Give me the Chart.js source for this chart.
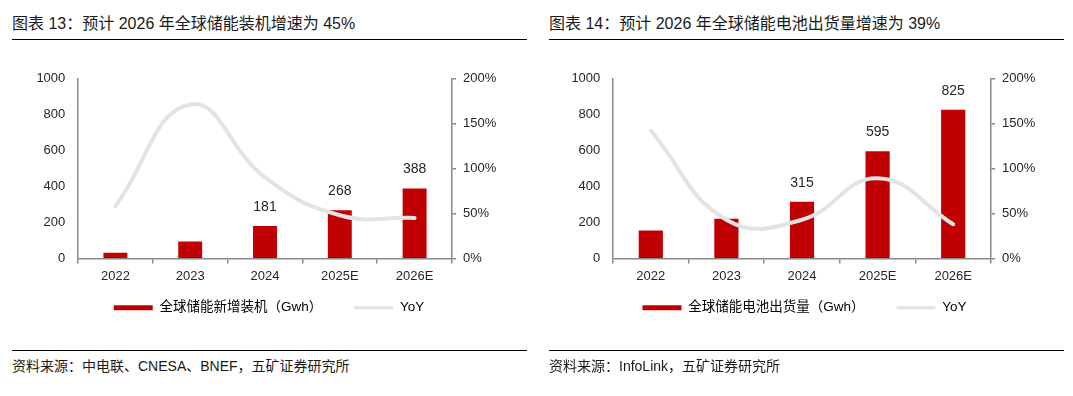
<!DOCTYPE html>
<html>
<head>
<meta charset="utf-8">
<script src="https://cdn.jsdelivr.net/npm/chart.js@4.4.1/dist/chart.umd.min.js"></script>
<style>
  body { margin: 0; width: 1073px; height: 396px; background: #fff; position: relative; overflow: hidden;
         font-family: "Liberation Sans", "Noto Sans CJK SC", sans-serif; color: #1a1a1a; }
  .title { position: absolute; top: 13px; font-size: 16px; line-height: 22px; white-space: nowrap; }
  .rule { position: absolute; height: 0; border-top: 1.3px solid #000; }
  .src { position: absolute; top: 357px; font-size: 14px; line-height: 18px; white-space: nowrap; }
  .box { position: absolute; top: 50px; height: 291px; }
</style>
</head>
<body>
<div class="title" style="left:12px">图表 13：预计 2026 年全球储能装机增速为 45%</div>
<div class="rule" style="left:12px; width:515px; top:39px"></div>
<div class="title" style="left:549px">图表 14：预计 2026 年全球储能电池出货量增速为 39%</div>
<div class="rule" style="left:549px; width:515px; top:39px"></div>

<div class="box" style="left:0px; width:538px"><canvas id="chartInstall"></canvas></div>
<div class="box" style="left:536px; width:537px"><canvas id="chartBattery"></canvas></div>

<div class="rule" style="left:12px; width:515px; top:350px"></div>
<div class="src" style="left:12px">资料来源：中电联、CNESA、BNEF，五矿证券研究所</div>
<div class="rule" style="left:549px; width:515px; top:350px"></div>
<div class="src" style="left:549px">资料来源：InfoLink，五矿证券研究所</div>

<script>
const years = ["2022", "2023", "2024", "2025E", "2026E"];

// 全球储能新增装机 (Gwh) + YoY (%)
const installGwh = [32, 95, 181, 268, 388];
const installYoY = [58, 171, 90, 48, 45];
const installShowLabel = [false, false, true, true, true];

// 全球储能电池出货量 (Gwh) + YoY (%)
const batteryGwh = [156, 221, 315, 595, 825];
const batteryYoY = [142, 43, 43, 89, 38];
const batteryShowLabel = [false, false, true, true, true];

const RED = "#c00000";
const GREY_LINE = "#e3e3e3";
const AXIS = "#898989";
const TEXT = "#262626";
const FONT = '"Liberation Sans", "Noto Sans CJK SC", sans-serif';

// value labels over the bars
const barLabels = {
  id: "barLabels",
  afterDatasetsDraw(chart) {
    const ds = chart.data.datasets[0];
    const meta = chart.getDatasetMeta(0);
    const ctx = chart.ctx;
    ctx.save();
    ctx.font = "14px " + FONT;
    ctx.fillStyle = TEXT;
    ctx.textAlign = "center";
    ctx.textBaseline = "middle";
    meta.data.forEach((bar, i) => {
      if (!ds.showLabel[i]) return;
      ctx.fillText(String(ds.data[i]), bar.x, bar.y - 19);
    });
    ctx.restore();
  }
};

// the legend padding doubles as the gap between items, so pull the legend up a bit
const legendLift = {
  id: "legendLift",
  afterLayout(chart) {
    chart.legend.top -= 16.5;
    chart.legend.bottom -= 16.5;
  }
};

function makeChart(id, barName, bars, yoy, show, leftW, rightW) {
  const ctx = document.getElementById(id).getContext("2d");
  return new Chart(ctx, {
    type: "bar",
    data: {
      labels: years,
      datasets: [
        {
          type: "bar",
          label: barName,
          data: bars,
          showLabel: show,
          backgroundColor: RED,
          barPercentage: 0.32,
          categoryPercentage: 1,
          yAxisID: "y",
          order: 1
        },
        {
          type: "line",
          label: "YoY",
          data: yoy,
          borderColor: GREY_LINE,
          borderWidth: 4,
          pointRadius: 0,
          tension: 0.45,
          borderCapStyle: "round",
          clip: false,
          yAxisID: "y1",
          order: 0
        }
      ]
    },
    options: {
      responsive: true,
      maintainAspectRatio: false,
      animation: false,
      layout: { padding: { top: 28.3, left: 0, right: 0, bottom: 0 } },
      plugins: {
        tooltip: { enabled: false },
        legend: {
          position: "bottom",
          labels: {
            usePointStyle: true,
            pointStyleWidth: 39,
            boxHeight: 5,
            padding: 32,
            color: TEXT,
            font: { family: FONT, size: 13.5 },
            generateLabels: (chart) => chart.data.datasets.map((d, i) => ({
              text: d.label,
              pointStyle: i === 0 ? "rect" : "line",
              fillStyle: i === 0 ? RED : GREY_LINE,
              strokeStyle: i === 0 ? RED : GREY_LINE,
              lineWidth: i === 0 ? 0 : 3,
              hidden: false,
              datasetIndex: i
            }))
          }
        }
      },
      scales: {
        x: {
          grid: { drawOnChartArea: false, offset: true, tickLength: 5, color: AXIS, lineWidth: 1.5 },
          border: { display: true, color: AXIS, width: 1.5 },
          ticks: { color: TEXT, font: { family: FONT, size: 13 }, padding: 5 },
          afterFit: (s) => { s.height = 27; }
        },
        y: {
          position: "left",
          min: 0, max: 1000,
          ticks: { stepSize: 200, color: TEXT, font: { family: FONT, size: 13 }, padding: 12.7,
                   callback: (v) => String(v) },
          grid: { drawOnChartArea: false, drawTicks: false },
          border: { display: true, color: AXIS, width: 1.5 },
          afterFit: (s) => { s.width = leftW; }
        },
        y1: {
          position: "right",
          min: 0, max: 200,
          ticks: { stepSize: 50, color: TEXT, font: { family: FONT, size: 13 }, padding: 7,
                   callback: (v) => v + "%" },
          grid: { drawOnChartArea: false, tickLength: 4, color: AXIS, lineWidth: 1.5 },
          border: { display: true, color: AXIS, width: 1.5 },
          afterFit: (s) => { s.width = rightW; }
        }
      }
    },
    plugins: [barLabels, legendLift]
  });
}

makeChart("chartInstall", "全球储能新增装机（Gwh）", installGwh, installYoY, installShowLabel, 78, 86);
makeChart("chartBattery", "全球储能电池出货量（Gwh）", batteryGwh, batteryYoY, batteryShowLabel, 77, 82);
</script>
</body>
</html>
